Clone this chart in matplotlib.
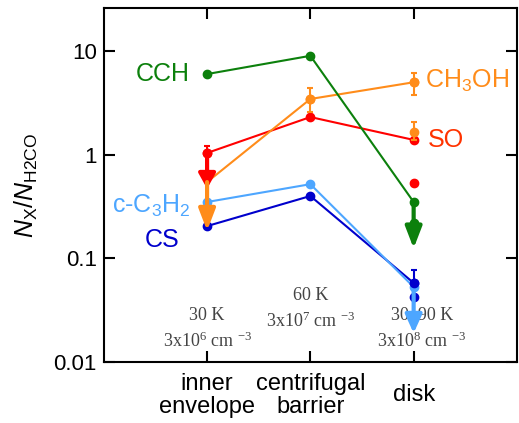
import matplotlib
matplotlib.use("Agg")
import matplotlib.pyplot as plt

plt.rcParams['font.family'] = ['Liberation Sans', 'DejaVu Sans']
plt.rcParams['mathtext.default'] = 'regular'
plt.rcParams['mathtext.fontset'] = 'custom'
plt.rcParams['mathtext.rm'] = 'Liberation Sans'
plt.rcParams['mathtext.it'] = 'Liberation Sans:italic'

# ---- data ----
regions = ["inner\nenvelope", "centrifugal\nbarrier", "disk"]
xpos = [1, 2, 3]

cch = [6.0, 9.0, 0.35]
ch3oh = [0.545, 3.45, 5.0]
so = [1.04, 2.31, 1.39]
c3h2 = [0.35, 0.52, 0.053]
cs = [0.205, 0.40, 0.058]

# error bars (value, lower, upper)
ch3oh_cb_err = [3.45, 2.58, 4.4]
ch3oh_disk_err = [5.0, 3.76, 6.15]
ch3oh_disk2 = [1.66, 1.40, 2.07]
so_inner_err = [1.04, 1.04, 1.21]
cs_disk_err = [0.058, 0.058, 0.077]

# extra disk points
cch_disk2 = 0.22
so_disk2 = 0.533
cs_disk2 = 0.042

# upper-limit arrows (x, start, tip)
so_limit = [1, 1.04, 0.47]
ch3oh_limit = [1, 0.545, 0.185]
cch_limit = [3, 0.35, 0.125]
c3h2_limit = [3, 0.053, 0.019]

yticks = [10, 1, 0.1, 0.01]
ytick_labels = ["10", "1", "0.1", "0.01"]

cond_T = ["30 K", "60 K", "30\u201390 K"]
cond_n = ["3x10$^{6}$ cm $^{-3}$", "3x10$^{7}$ cm $^{-3}$", "3x10$^{8}$ cm $^{-3}$"]
cond_x = [1.0, 2.0, 3.08]
cond_yT = [0.028, 0.044, 0.028]
cond_yn = [0.0158, 0.025, 0.0158]

# ---- colors ----
green = "#0c800c"
orange = "#ff8c1a"
red = "#ff0000"
lblue = "#4da6ff"
blue = "#0000cc"

fig = plt.figure(figsize=(5.19, 4.23), dpi=100)
ax = fig.add_axes([0.200, 0.144, 0.796, 0.837])
ax.set_yscale('log')

lw = 1.5
ms = 6

def arrow(lim, color, hl=1.2, hw=0.5):
    x, y0, y1 = lim
    ax.annotate('', xy=(x, y1), xytext=(x, y0),
                arrowprops=dict(arrowstyle='-|>,head_length=%g,head_width=%g' % (hl, hw),
                                lw=3, color=color, shrinkA=0, shrinkB=0,
                                mutation_scale=10), zorder=4)

def err(v, x, color):
    val, lo, hi = v
    ax.errorbar([x], [val], yerr=[[val - lo], [hi - val]], fmt='o', color=color,
                ms=ms, elinewidth=1.5, capsize=2.5, capthick=1.5, zorder=5)

# SO
ax.plot(xpos, so, '-o', color=red, lw=lw, ms=ms, zorder=3)
err(so_inner_err, 1, red)
arrow(so_limit, red, hl=0.9)
ax.plot([3], [so_disk2], 'o', color=red, ms=ms, zorder=3)

# CH3OH
ax.plot(xpos[1:], ch3oh[1:], '-o', color=orange, lw=lw, ms=ms, zorder=3)
ax.plot(xpos[:2], ch3oh[:2], '-', color=orange, lw=lw, zorder=3)
err(ch3oh_cb_err, 2, orange)
err(ch3oh_disk_err, 3, orange)
err(ch3oh_disk2, 3, orange)
arrow(ch3oh_limit, orange, hl=1.3)

# CCH
ax.plot(xpos, cch, '-o', color=green, lw=lw, ms=ms, zorder=3)
ax.plot([3], [cch_disk2], 'o', color=green, ms=ms, zorder=3)
arrow(cch_limit, green, hl=1.3)

# CS
ax.plot(xpos, cs, '-o', color=blue, lw=lw, ms=ms, zorder=3)
err(cs_disk_err, 3, blue)
ax.plot([3], [cs_disk2], 'o', color=blue, ms=ms, zorder=3)

# c-C3H2
ax.plot(xpos, c3h2, '-o', color=lblue, lw=lw, ms=ms, zorder=3)
arrow(c3h2_limit, lblue, hl=1.1)

# species labels
ax.text(0.83, 6.0, "CCH", color=green, fontsize=18, ha='right', va='center')
ax.text(3.11, 5.2, "CH$_3$OH", color=orange, fontsize=18, ha='left', va='center')
ax.text(3.14, 1.39, "SO", color="#ff3300", fontsize=18, ha='left', va='center')
ax.text(0.84, 0.32, "c-C$_3$H$_2$", color=lblue, fontsize=18, ha='right', va='center')
ax.text(0.56, 0.15, "CS", color=blue, fontsize=18, ha='center', va='center')

# physical conditions
for x, t, n, yt, yn in zip(cond_x, cond_T, cond_n, cond_yT, cond_yn):
    ax.text(x, yt, t, family=['Liberation Serif', 'DejaVu Serif'], fontsize=13,
            color="#444444", ha='center', va='center')
    ax.text(x, yn, n, family=['Liberation Serif', 'DejaVu Serif'], fontsize=13,
            color="#444444", ha='center', va='center')

ax.set_xlim(0, 4)
ax.set_ylim(0.01, 26)
ax.set_xticks(xpos)
ax.set_xticklabels(regions, fontsize=17, va='center', linespacing=1.05)
ax.set_yticks(yticks)
ax.set_yticklabels(ytick_labels, fontsize=16)
ax.minorticks_off()
ax.tick_params(axis='both', direction='in', length=8, width=1.5, top=True, right=True)
ax.tick_params(axis='x', pad=24)
ax.tick_params(axis='y', pad=5)
for s in ax.spines.values():
    s.set_linewidth(1.5)

ax.set_ylabel(r"$\mathit{N}_\mathrm{X}/\mathit{N}_\mathrm{H2CO}$", fontsize=18, labelpad=10)

fig.savefig("out.png", dpi=100)
